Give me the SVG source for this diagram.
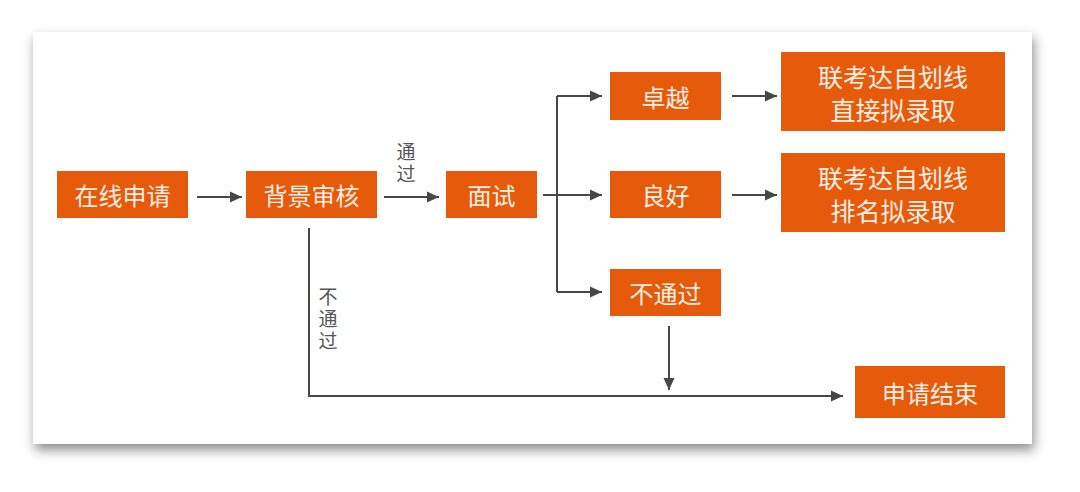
<svg xmlns="http://www.w3.org/2000/svg" width="1080" height="492" viewBox="0 0 1080 492">
<defs>
<filter id="sh" x="-5%" y="-10%" width="110%" height="125%">
<feDropShadow dx="2" dy="6" stdDeviation="6" flood-color="#000" flood-opacity="0.45"/>
</filter>
<marker id="ah" markerUnits="userSpaceOnUse" markerWidth="14" markerHeight="14" viewBox="0 0 14 14" refX="13" refY="7" orient="auto">
<path d="M1,1.5 L13,7 L1,12.5 Z" fill="#474747"/>
</marker>
<style>
.box{fill:#e65a0c;}
.bt{font-family:"Noto Sans CJK SC","Noto Sans",sans-serif;font-size:24px;fill:#fdeee2;text-anchor:middle;dominant-baseline:central;}
.lb{font-family:"Noto Sans CJK SC","Noto Sans",sans-serif;font-size:19px;fill:#555;text-anchor:middle;writing-mode:vertical-rl;letter-spacing:3px;}
.ln{fill:none;stroke:#474747;stroke-width:2;}
.ar{marker-end:url(#ah);}
</style>
</defs>
<rect width="1080" height="492" fill="#ffffff"/>
<rect x="33" y="32" width="999" height="412" fill="#ffffff" filter="url(#sh)"/>
<g id="connectors">
<path class="ln ar" d="M197,197 H242"/>
<path class="ln ar" d="M384,197 H439"/>
<path class="ln ar" d="M543,195 H602"/>
<path class="ln" d="M557,96 V292"/>
<path class="ln ar" d="M557,96 H602"/>
<path class="ln ar" d="M557,292 H602"/>
<path class="ln ar" d="M732,96 H777"/>
<path class="ln ar" d="M732,195 H777"/>
<path class="ln ar" d="M669,326 V390"/>
<path class="ln ar" d="M309,228 V396 H843"/>
<text class="lb" x="406" y="164">通过</text>
<text class="lb" x="328" y="320">不通过</text>
</g>
<g id="n-apply"><rect class="box" x="57" y="171" width="131" height="47"/><text class="bt" x="122.5" y="194.5">在线申请</text></g>
<g id="n-review"><rect class="box" x="246" y="171" width="131" height="47"/><text class="bt" x="311.5" y="194.5">背景审核</text></g>
<g id="n-interview"><rect class="box" x="446" y="171" width="91" height="47"/><text class="bt" x="491.5" y="194.5">面试</text></g>
<g id="n-excellent"><rect class="box" x="610" y="72" width="111" height="48"/><text class="bt" x="665.5" y="96">卓越</text></g>
<g id="n-good"><rect class="box" x="610" y="171" width="111" height="47"/><text class="bt" x="665.5" y="194.5">良好</text></g>
<g id="n-fail"><rect class="box" x="610" y="269" width="111" height="47"/><text class="bt" x="665.5" y="292.5">不通过</text></g>
<g id="n-direct"><rect class="box" x="781" y="52" width="224" height="79"/><text class="bt" x="893" y="76" style="font-size:25px">联考达自划线</text><text class="bt" x="893" y="109" style="font-size:25px">直接拟录取</text></g>
<g id="n-rank"><rect class="box" x="781" y="153" width="224" height="79"/><text class="bt" x="893" y="177" style="font-size:25px">联考达自划线</text><text class="bt" x="893" y="210" style="font-size:25px">排名拟录取</text></g>
<g id="n-end"><rect class="box" x="855" y="366" width="150" height="52"/><text class="bt" x="930" y="392">申请结束</text></g>
</svg>
